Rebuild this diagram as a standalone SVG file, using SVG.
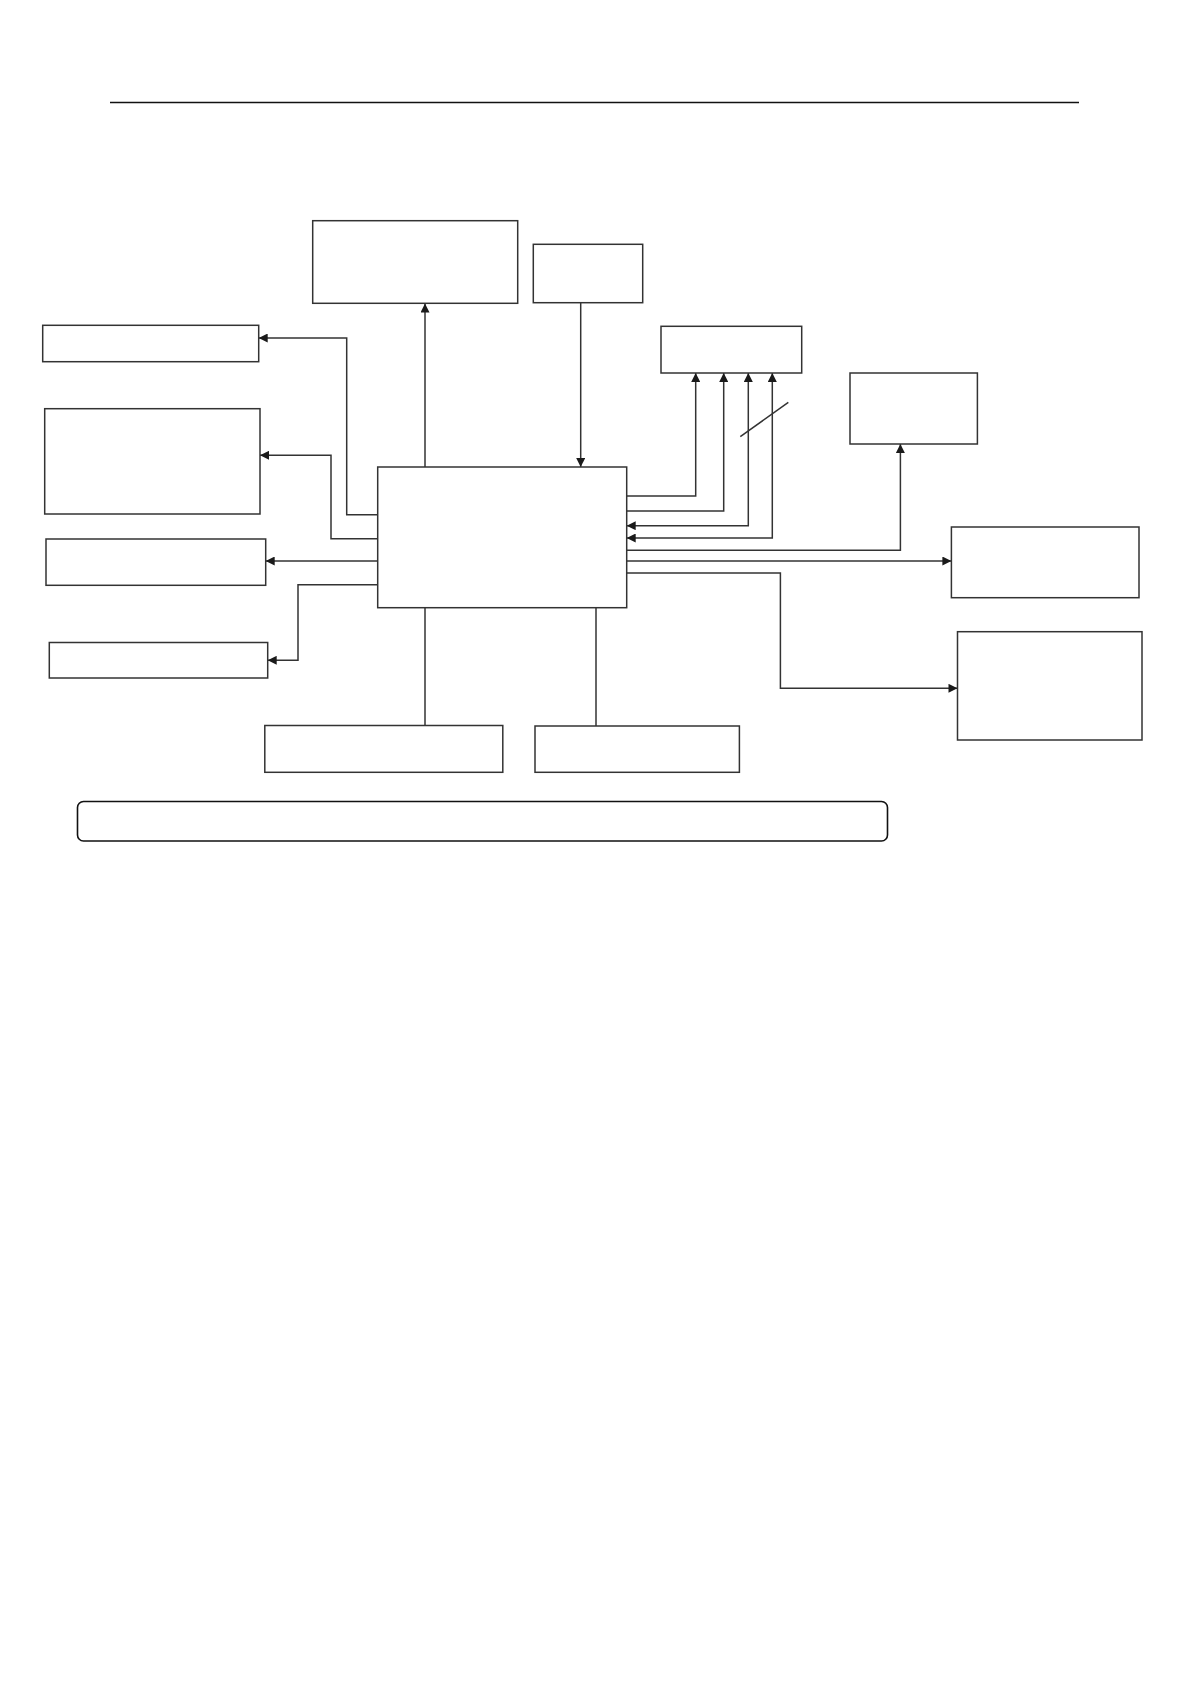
<svg xmlns="http://www.w3.org/2000/svg" width="1190" height="1684" viewBox="0 0 1190 1684">
<style>
.box{fill:#fff;stroke:#333;stroke-width:1.5}
.c{fill:none;stroke:#333;stroke-width:1.5}
.ah{marker-end:url(#arr)}
.bi{marker-start:url(#arr);marker-end:url(#arr)}
</style>
<defs>
<marker id="arr" viewBox="0 0 10 10" refX="10" refY="5" markerWidth="10" markerHeight="9" markerUnits="userSpaceOnUse" orient="auto-start-reverse">
<path d="M0,0 L10,5 L0,10 z" fill="#1a1a1a"/>
</marker>
</defs>
<rect width="1190" height="1684" fill="#fff"/>
<line x1="110" y1="102.5" x2="1079" y2="102.5" stroke="#111" stroke-width="1.5"/>

<g id="connectors">
<path class="c ah" d="M425,467 V303.5"/>
<path class="c ah" d="M580.7,302.7 V467"/>
<path class="c ah" d="M377.7,514.7 H346.7 V338 H258.7"/>
<path class="c ah" d="M377.7,538.7 H331 V455.3 H260"/>
<path class="c ah" d="M377.7,561 H265.7"/>
<path class="c ah" d="M377.7,584.7 H298 V660.3 H267.7"/>
<path class="c ah" d="M626.7,496 H695.7 V373"/>
<path class="c ah" d="M626.7,511 H723.7 V373"/>
<path class="c bi" d="M626.7,525.7 H748.3 V373"/>
<path class="c bi" d="M626.7,538 H772.3 V373"/>
<path class="c ah" d="M626.7,550.3 H900.4 V444"/>
<path class="c ah" d="M626.7,561 H951.4"/>
<path class="c ah" d="M626.7,573 H780.4 V688.3 H957.5"/>
<path class="c" d="M425,607.7 V725.5"/>
<path class="c" d="M596,607.7 V726"/>
<line class="c" x1="740.3" y1="436.7" x2="788.3" y2="402.3"/>
</g>

<g id="node-central"><rect class="box" x="377.7" y="467" width="249" height="140.7"/></g>
<g id="node-top-a"><rect class="box" x="312.7" y="220.7" width="205" height="82.6"/></g>
<g id="node-top-b"><rect class="box" x="533.3" y="244.3" width="109.4" height="58.4"/></g>
<g id="node-c"><rect class="box" x="661" y="326.3" width="140.7" height="46.7"/></g>
<g id="node-d"><rect class="box" x="850" y="373" width="127.4" height="71"/></g>
<g id="node-e1"><rect class="box" x="42.7" y="325.3" width="216" height="36.4"/></g>
<g id="node-e2"><rect class="box" x="44.7" y="408.7" width="215.3" height="105.3"/></g>
<g id="node-e3"><rect class="box" x="46" y="539" width="219.7" height="46.3"/></g>
<g id="node-e4"><rect class="box" x="49.3" y="642.5" width="218.4" height="35.5"/></g>
<g id="node-g"><rect class="box" x="951.4" y="527" width="187.6" height="70.7"/></g>
<g id="node-h"><rect class="box" x="957.5" y="631.7" width="184.5" height="108.3"/></g>
<g id="node-f1"><rect class="box" x="264.8" y="725.5" width="238" height="46.8"/></g>
<g id="node-f2"><rect class="box" x="535" y="726" width="204.4" height="46.3"/></g>
<g id="node-note"><rect x="77.5" y="801.5" width="810" height="39.5" rx="6" ry="6" fill="#fff" stroke="#111" stroke-width="1.6"/></g>
</svg>
